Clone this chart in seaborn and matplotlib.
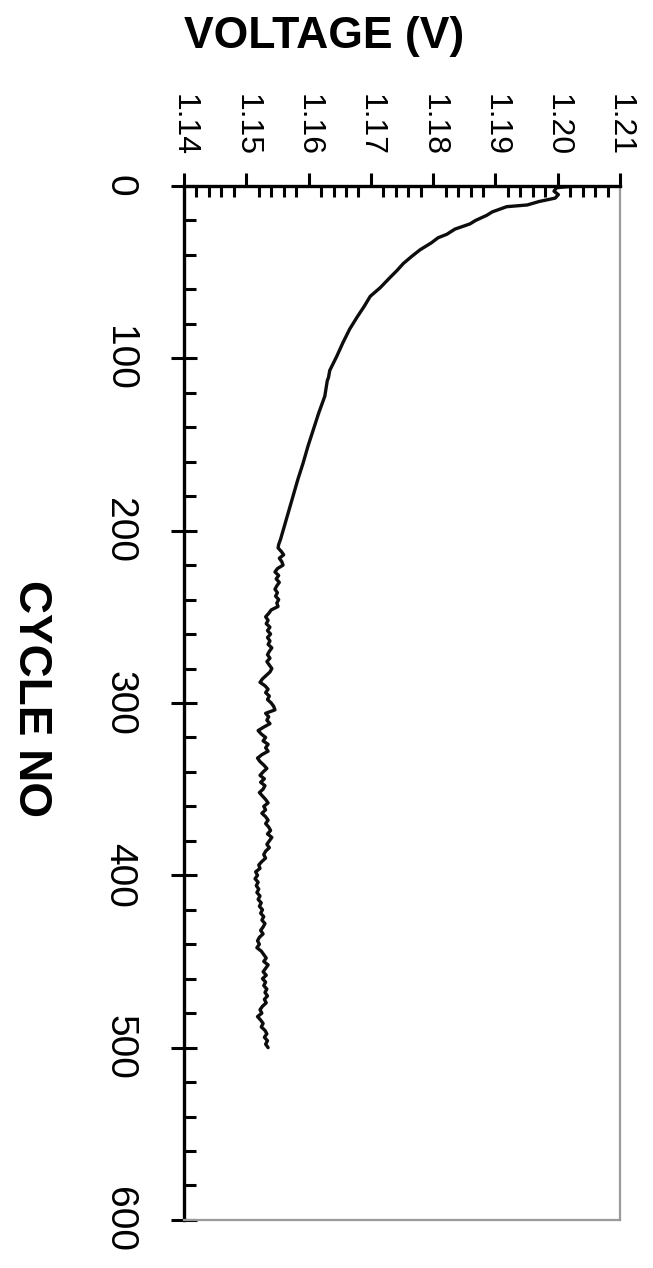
import matplotlib
matplotlib.use("Agg")
import matplotlib.pyplot as plt
from matplotlib import font_manager
from matplotlib.ticker import MultipleLocator
import seaborn as sns
import pandas as pd

# Cell voltage recorded against charge/discharge cycle number
cycle_no = [0, 1, 3, 5, 7, 9, 11, 12, 15, 17, 20, 22, 25, 28, 30, 33, 37, 41, 45, 49,
            53, 59, 64, 70, 76, 83, 91, 99, 107, 111, 113, 122, 132, 142, 151, 161,
            170, 180, 190, 200, 205, 208,
            210, 212, 214, 216, 218, 220, 222, 224, 226, 228, 230, 232, 234, 236, 238,
            240, 242, 244, 246, 248, 250, 252, 254, 256, 258, 260, 262, 264, 266, 268,
            270, 272, 274, 276, 278, 280, 282, 284, 286, 288, 290, 292, 294, 296, 298,
            300, 302, 304, 306, 308, 310, 312, 314, 316, 318, 320, 322, 324, 326, 328,
            330, 332, 334, 336, 338, 340, 342, 344, 346, 348, 350, 352, 354, 356, 358,
            360, 362, 364, 366, 368, 370, 372, 374, 376, 378, 380, 382, 384, 386, 388,
            390, 392, 394, 396, 398, 400, 402, 404, 406, 408, 410, 412, 414, 416, 418,
            420, 422, 424, 426, 428, 430, 432, 434, 436, 438, 440, 442, 444, 446, 448,
            450, 452, 454, 456, 458, 460, 462, 464, 466, 468, 470, 472, 474, 476, 478,
            480, 482, 484, 486, 488, 490, 492, 494, 496, 498, 500]
voltage = [1.2028, 1.1998, 1.1994, 1.2001, 1.1996, 1.1970, 1.1951, 1.1918, 1.1895,
           1.1886, 1.1868, 1.1859, 1.1835, 1.1822, 1.1808, 1.1797, 1.1779, 1.1765,
           1.1752, 1.1742, 1.1731, 1.1715, 1.1699, 1.1689, 1.1678, 1.1666, 1.1655,
           1.1645, 1.1634, 1.1632, 1.1630, 1.1626, 1.1616, 1.1607, 1.1599, 1.1591,
           1.1583, 1.1575, 1.1567, 1.1559, 1.1555, 1.1552,
           1.1551, 1.1556, 1.1560, 1.1553, 1.1557, 1.1559, 1.1550, 1.1546, 1.1552, 1.1548,
           1.1553, 1.1549, 1.1546, 1.1550, 1.1547, 1.1552, 1.1549, 1.1551, 1.1540, 1.1536,
           1.1531, 1.1535, 1.1532, 1.1538, 1.1534, 1.1539, 1.1534, 1.1538, 1.1535, 1.1541,
           1.1537, 1.1534, 1.1538, 1.1533, 1.1537, 1.1541, 1.1538, 1.1532, 1.1526, 1.1522,
           1.1530, 1.1535, 1.1531, 1.1537, 1.1534, 1.1540, 1.1544, 1.1546, 1.1531, 1.1536,
           1.1533, 1.1538, 1.1528, 1.1519, 1.1524, 1.1531, 1.1527, 1.1535, 1.1531, 1.1535,
           1.1525, 1.1518, 1.1522, 1.1528, 1.1533, 1.1527, 1.1522, 1.1529, 1.1523, 1.1530,
           1.1527, 1.1521, 1.1526, 1.1531, 1.1535, 1.1528, 1.1531, 1.1525, 1.1531, 1.1535,
           1.1531, 1.1536, 1.1539, 1.1534, 1.1541, 1.1537, 1.1533, 1.1537, 1.1531, 1.1528,
           1.1531, 1.1525, 1.1520, 1.1522, 1.1515, 1.1518, 1.1514, 1.1519, 1.1516, 1.1520,
           1.1517, 1.1522, 1.1519, 1.1524, 1.1521, 1.1526, 1.1523, 1.1528, 1.1525, 1.1530,
           1.1527, 1.1523, 1.1527, 1.1521, 1.1518, 1.1521, 1.1517, 1.1524, 1.1528, 1.1532,
           1.1528, 1.1535, 1.1531, 1.1527, 1.1532, 1.1526, 1.1531, 1.1528, 1.1533, 1.1530,
           1.1534, 1.1529, 1.1532, 1.1526, 1.1522, 1.1525, 1.1518, 1.1523, 1.1527, 1.1524,
           1.1530, 1.1533, 1.1529, 1.1534, 1.1531, 1.1535]

voltage_ticks = [1.14, 1.15, 1.16, 1.17, 1.18, 1.19, 1.20, 1.21]
voltage_tick_labels = ["1.14", "1.15", "1.16", "1.17", "1.18", "1.19", "1.20", "1.21"]
cycle_ticks = [0, 100, 200, 300, 400, 500, 600]
cycle_tick_labels = ["0", "100", "200", "300", "400", "500", "600"]

sns.set_style("ticks")
plt.rcParams["font.family"] = ["Liberation Sans", "DejaVu Sans"]
plt.rcParams["text.color"] = "black"
plt.rcParams["xtick.color"] = "black"
plt.rcParams["ytick.color"] = "black"
plt.rcParams["axes.labelcolor"] = "black"

installed = {f.name for f in font_manager.fontManager.ttflist}
narrow = "Liberation Sans Narrow" if "Liberation Sans Narrow" in installed else "Liberation Sans"

df = pd.DataFrame({"cycle": cycle_no, "voltage": voltage})

fig = plt.figure(figsize=(6.53, 12.68), dpi=100)
ax = fig.add_axes([0.2818, 0.0379, 0.6677, 0.8154])

# Page is turned a quarter: voltage runs across, cycle number runs downward
sns.lineplot(data=df, x="voltage", y="cycle", sort=False, orient="y",
             color="#0d0d0d", linewidth=2.4, ax=ax)

ax.set_xlim(1.14, 1.21)
ax.set_ylim(600, 0)

ax.xaxis.set_ticks_position("top")
ax.xaxis.set_label_position("top")
ax.set_xticks(voltage_ticks)
ax.set_xticklabels(voltage_tick_labels, rotation=-90, fontsize=23, ha="center",
                   va="bottom", color="black")
ax.xaxis.set_minor_locator(MultipleLocator(0.002))
ax.set_yticks(cycle_ticks)
ax.set_yticklabels(cycle_tick_labels, rotation=-90, fontsize=28, ha="right",
                   va="center", color="black")
ax.yaxis.set_minor_locator(MultipleLocator(20))

ax.tick_params(axis="x", which="major", direction="out", length=9.5, width=2.2,
               pad=12, top=True, bottom=False, color="black")
ax.tick_params(axis="x", which="minor", direction="in", length=8, width=2.2,
               top=True, bottom=False, color="black")
ax.tick_params(axis="y", which="major", direction="inout", length=19, width=2.2,
               pad=24, left=True, right=False, color="black")
ax.tick_params(axis="y", which="minor", direction="in", length=8.5, width=2.2,
               left=True, right=False, color="black")

for side in ("left", "top"):
    ax.spines[side].set_color("black")
    ax.spines[side].set_linewidth(2.4)
for side in ("right", "bottom"):
    ax.spines[side].set_color("#9a9a9a")
    ax.spines[side].set_linewidth(1.6)

ax.set_xlabel("")
ax.set_ylabel("")
fig.text(0.497, 0.971, "VOLTAGE (V)", fontsize=32, fontweight="bold",
         ha="center", va="center")
fig.text(0.047, 0.4495, "CYCLE NO", fontsize=33, fontweight="bold",
         family=[narrow, "DejaVu Sans"], rotation=-90, ha="center", va="center")

fig.savefig("out.png", dpi=100, facecolor="white")
